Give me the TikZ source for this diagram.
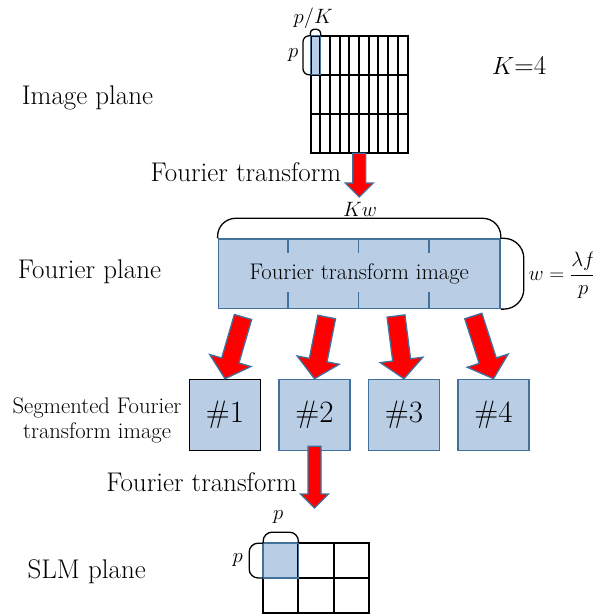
\documentclass[tikz,border=0pt]{standalone}
\usetikzlibrary{calc}
\definecolor{cellfill}{RGB}{185,205,228}
\definecolor{celledge}{RGB}{65,113,156}
\tikzset{
  plane/.style={font=\fontsize{27}{30}\selectfont},
  small/.style={font=\fontsize{22.6}{25}\selectfont, align=center},
  mathlbl/.style={font=\fontsize{20}{24}\selectfont},
  seg/.style={draw=celledge, fill=cellfill, line width=1.5pt, inner sep=0pt,
    minimum width=71pt, minimum height=71pt, font=\fontsize{31}{36}\selectfont},
  gridline/.style={line width=2pt, line cap=rect},
  brace/.style={line width=1.3pt},
  fatarrow/.style n args={3}{draw=celledge, fill=red, line width=1.3pt, line join=miter,
    to path={
      ($(\tikztostart)!#1!90:(\tikztotarget)$)
      -- ($(\tikztotarget)!#3!(\tikztostart)!#1!-90:(\tikztostart)$)
      -- ($(\tikztotarget)!#3!(\tikztostart)!#2!-90:(\tikztostart)$)
      -- (\tikztotarget)
      -- ($(\tikztotarget)!#3!(\tikztostart)!#2!90:(\tikztostart)$)
      -- ($(\tikztotarget)!#3!(\tikztostart)!#1!90:(\tikztostart)$)
      -- ($(\tikztostart)!#1!-90:(\tikztotarget)$)
      -- cycle}},
  bigarrow/.style={fatarrow={9pt}{21.5pt}{19pt}},
  thinarrow/.style={fatarrow={6.5pt}{14pt}{14pt}}
}
\begin{document}
\begin{tikzpicture}[x=1pt, y=-1pt]
\useasboundingbox (0,0) rectangle (592,615);

% labels on the left
\node[plane] (ipl) at (87.5,98) {Image plane};
\node[plane] (ft1) at (246,172) {Fourier transform};
\node[plane] (fpl) at (89.5,272) {Fourier plane};
\node[small] (sfl) at (97,420) {Segmented Fourier\\transform image};
\node[plane] (ft2) at (201.7,481.7) {Fourier transform};
\node[plane] (spl) at (86.7,571.7) {SLM plane};
\node[plane] (kk) at (519,65) {$K$=4};

% image plane
\node[minimum width=97pt, minimum height=117pt, inner sep=0pt] (ip) at (359.2,94.5) {};
\fill[cellfill] (ip.north west) rectangle ++(9.7,39);
\foreach \i in {0,...,10}
  \draw[gridline] ($(ip.north west)+(9.7*\i,0)$) -- ++(0,117);
\foreach \j in {0,...,3}
  \draw[gridline] ($(ip.north west)+(0,39*\j)$) -- ++(97,0);
\draw[celledge, line width=1.3pt] (ip.north west) rectangle ++(9.7,39);
\draw[brace, rounded corners=4pt] (ip.north west) -- ++(-0.5,-6.5) -- ++(10.7,0) -- ++(0,6.5);
\draw[brace, rounded corners=6pt] (ip.north west) -- ++(-7.5,0) -- ++(0,39) -- ++(7.5,0);
\node[mathlbl] (pk) at (313.3,18) {$p/K$};
\node[mathlbl] (p1) at (293.3,55) {$p$};

% Fourier plane
\node[draw=celledge, fill=cellfill, line width=1.5pt, inner sep=0pt,
  minimum width=281.7pt, minimum height=69.3pt,
  font=\fontsize{22.6}{25}\selectfont] (ft) at (359.2,273.7) {Fourier transform image};
\foreach \i in {1,2,3} {
  \draw[celledge, line width=1.5pt] ($(ft.north west)+(70.4*\i,0)$) -- ++(0,15);
  \draw[celledge, line width=1.5pt] ($(ft.south west)+(70.4*\i,0)$) -- ++(0,-17);
}
\draw[brace, rounded corners=18pt] (ft.north west) -- ++(0,-20) -| (ft.north east);
\draw[brace, rounded corners=20pt] (ft.north east) -- ++(23,0) |- (ft.south east);
\node[mathlbl] (kw) at (360,209) {$Kw$};
\node[mathlbl, anchor=west] (weq) at (525,275) {$w=\displaystyle\frac{\lambda f}{p}$};

% segmented images
\node[seg, draw=black] (b1) at (225,415) {\#1};
\node[seg] (b2) at (314.5,415) {\#2};
\node[seg] (b3) at (404,415) {\#3};
\node[seg] (b4) at (493.5,415) {\#4};

% SLM plane
\node[minimum width=105.7pt, minimum height=69.7pt, inner sep=0pt] (slm) at (316.2,578.2) {};
\fill[cellfill] (slm.north west) rectangle ++(35.2,34.85);
\foreach \i in {0,...,3}
  \draw[gridline] ($(slm.north west)+(35.2*\i,0)$) -- ++(0,69.7);
\foreach \j in {0,...,2}
  \draw[gridline] ($(slm.north west)+(0,34.85*\j)$) -- ++(105.7,0);
\draw[celledge, line width=1.5pt] (slm.north west) rectangle ++(35.2,34.85);
\draw[brace, rounded corners=9pt] (slm.north west) -- ++(0,-11) -- ++(35.2,0) -- ++(0,11);
\draw[brace, rounded corners=9pt] (slm.north west) -- ++(-14,0) -- ++(0,34.85) -- ++(14,0);
\node[mathlbl] (p2) at (278.3,516.7) {$p$};
\node[mathlbl] (p3) at (237.7,560) {$p$};

% arrows
\coordinate (ftop) at (359.2,197);
\coordinate (s1) at (243,317);
\coordinate (s2) at (326.7,317);
\coordinate (s3) at (396,316);
\coordinate (s4) at (473.3,316);
\coordinate (stop) at (314.5,508);
\draw[thinarrow] (ip.south) to (ftop);
\draw[bigarrow] (s1) to (b1.north);
\draw[bigarrow] (s2) to (b2.north);
\draw[bigarrow] (s3) to (b3.north);
\draw[bigarrow] (s4) to (b4.north);
\draw[thinarrow] ([yshift=5pt]b2.south) to (stop);
\end{tikzpicture}
\end{document}
